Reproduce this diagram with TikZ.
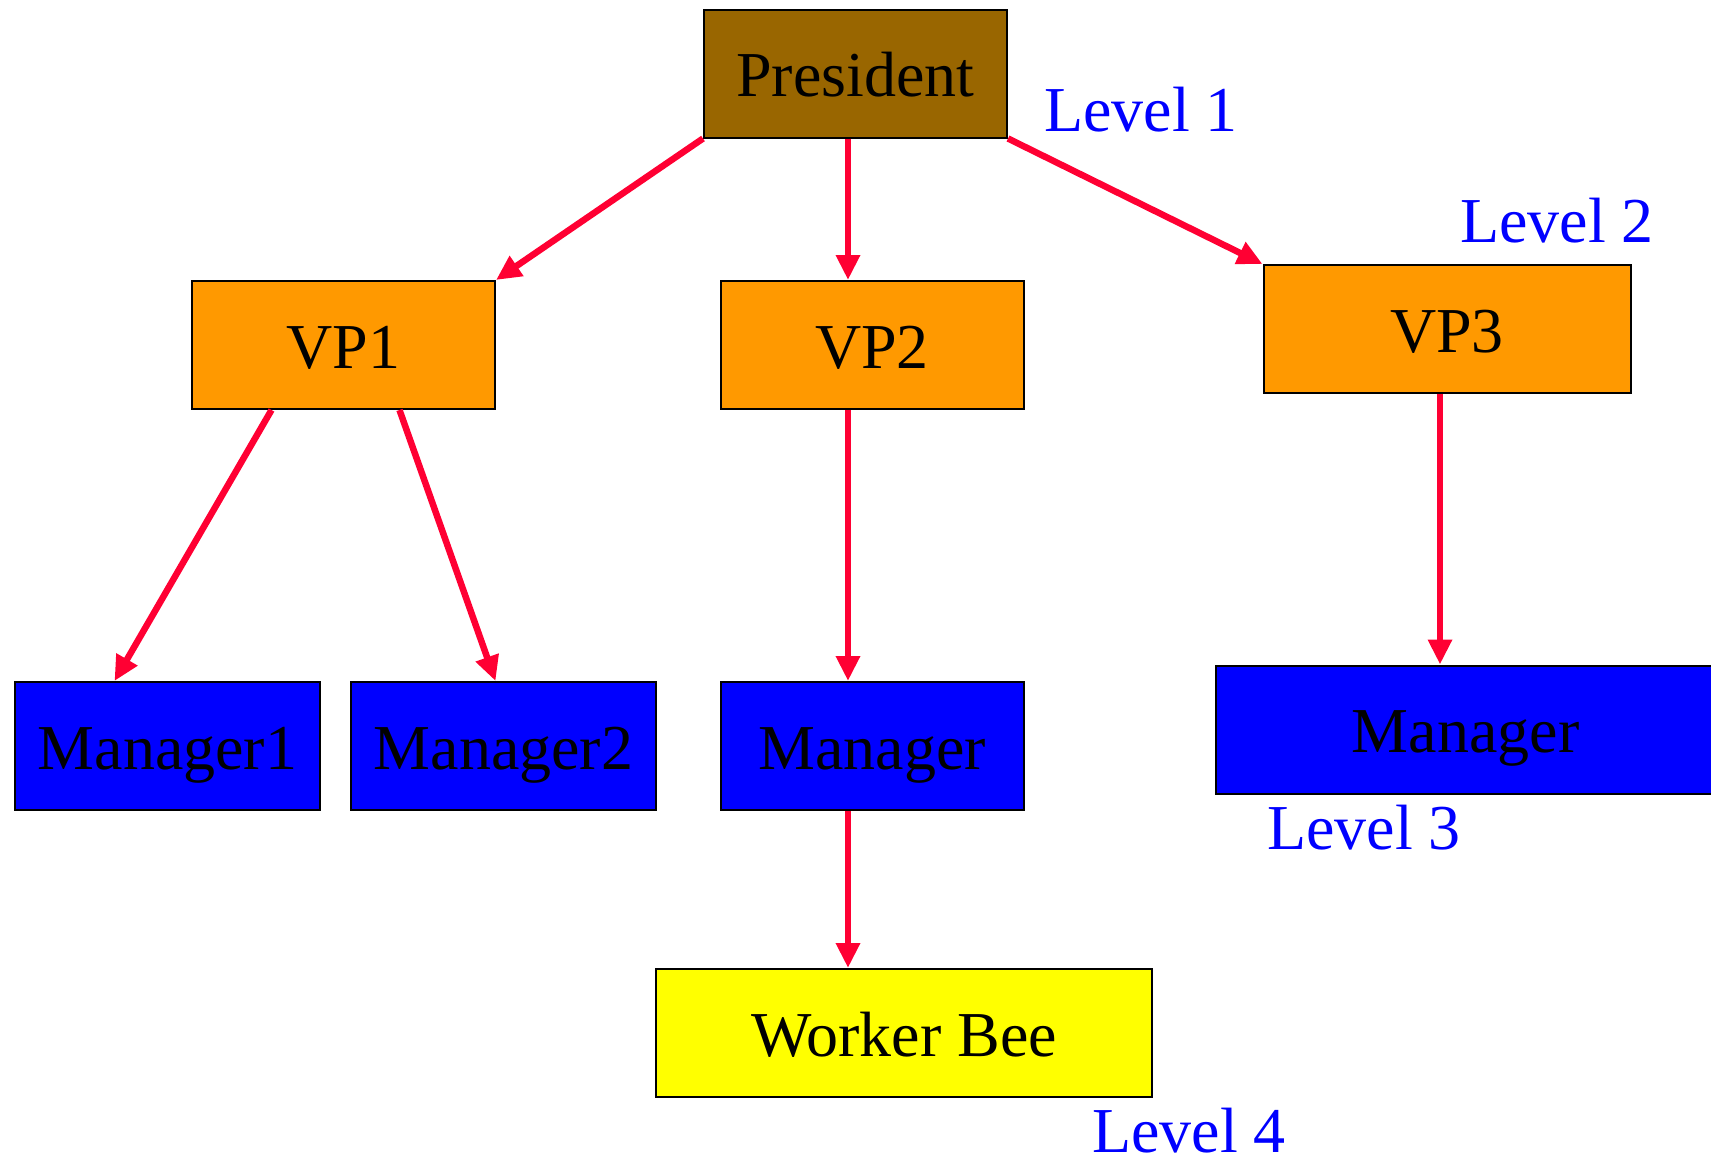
\documentclass[tikz,border=0pt]{standalone}
\usepackage{fontspec}
\setmainfont{Liberation Serif}
\usetikzlibrary{arrows.meta}
\definecolor{presC}{RGB}{153,102,0}
\definecolor{vpC}{RGB}{255,153,0}
\definecolor{mgrC}{RGB}{0,0,255}
\definecolor{wbC}{RGB}{255,255,0}
\definecolor{arrC}{RGB}{255,0,51}
\definecolor{lvlC}{RGB}{0,0,255}
\tikzset{
  box/.style={draw=black, line width=2pt, rectangle, inner sep=0pt,
    font=\fontsize{64pt}{64pt}\selectfont, text height=46pt, text depth=0pt,
    minimum height=128pt},
  link/.style={draw=arrC, line width=6.5pt, -{Triangle[length=25pt,width=23pt]}},
  lvl/.style={text=lvlC, font=\fontsize{64pt}{64pt}\selectfont, anchor=base west, inner sep=0pt}
}
\begin{document}
\begin{tikzpicture}[x=1pt,y=-1pt]
\useasboundingbox (0,0) rectangle (1711,1160);
\clip (0,0) rectangle (1711,1160);
\node[box, fill=presC, minimum width=303pt] (pres) at (855.5,73.5) {President};
\node[box, fill=vpC, minimum width=303pt] (vp1) at (343.5,345) {VP1};
\node[box, fill=vpC, minimum width=303pt] (vp2) at (872,345) {VP2};
\node[box, fill=vpC, minimum width=367pt] (vp3) at (1447,329) {VP3};
\node[box, fill=mgrC, minimum width=305pt] (m1) at (167.5,746) {Manager1};
\node[box, fill=mgrC, minimum width=305pt] (m2) at (503.5,746) {Manager2};
\node[box, fill=mgrC, minimum width=303pt] (m3) at (872,746) {Manager};
\node[box, fill=mgrC, minimum width=500pt] (m4) at (1465.6,729.5) {Manager};
\node[box, fill=wbC, minimum width=496pt] (wb) at (904,1033) {Worker Bee};
\node[lvl] (l1) at (1044,131) {Level 1};
\node[lvl] (l2) at (1460,242) {Level 2};
\node[lvl] (l3) at (1267,849) {Level 3};
\node[lvl] (l4) at (1092,1152) {Level 4};
\draw[link] (pres.south west) -- (vp1.north east);
\draw[link] ([xshift=-7.5pt]pres.south) -- ([xshift=-24pt]vp2.north);
\draw[link] (pres.south east) -- (vp3.north west);
\draw[link] ([xshift=-72pt]vp1.south) -- ([xshift=-53pt]m1.north);
\draw[link] ([xshift=56pt]vp1.south) -- ([xshift=-8pt]m2.north);
\draw[link] ([xshift=-24pt]vp2.south) -- ([xshift=-24pt]m3.north);
\draw[link] ([xshift=-7pt]vp3.south) -- ([xshift=-25.6pt]m4.north);
\draw[link] ([xshift=-24pt]m3.south) -- ([xshift=-56pt]wb.north);
\end{tikzpicture}
\end{document}
